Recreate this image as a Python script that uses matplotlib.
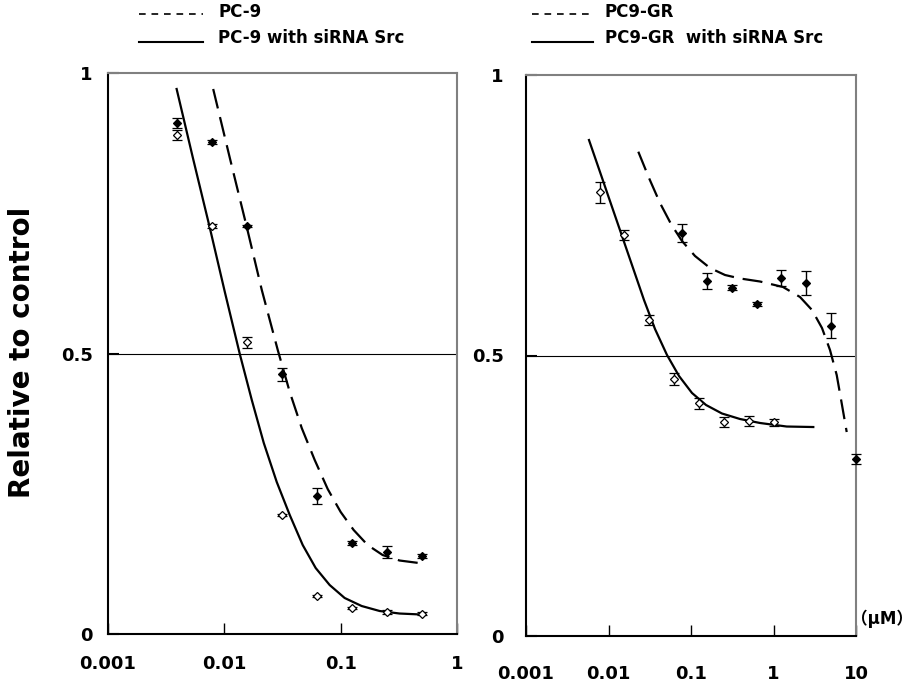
# -*- coding: utf-8 -*-

"""Dose response of PC-9 / PC9-GR cells with and without siRNA Src."""

import matplotlib
matplotlib.use('Agg')
import matplotlib.pyplot as plt
import matplotlib.ticker as ticker
from matplotlib.lines import Line2D

# Left panel: PC-9
PC9_DOSE = [0.0039, 0.0078, 0.0156, 0.03125, 0.0625, 0.125, 0.25, 0.5]
PC9_CTRL = [0.911, 0.877, 0.727, 0.463, 0.246, 0.162, 0.146, 0.139]
PC9_CTRL_ERR = [0.009, 0.003, 0.002, 0.012, 0.014, 0.003, 0.010, 0.004]
PC9_SI = [0.889, 0.727, 0.520, 0.212, 0.068, 0.046, 0.039, 0.036]
PC9_SI_ERR = [0.009, 0.004, 0.010, 0.002, 0.002, 0.002, 0.003, 0.003]

# fitted curves
PC9_FIT_X = [0.00802, 0.01115, 0.01551, 0.02099, 0.02879, 0.0365, 0.04626, 0.05981,
             0.07734, 0.1, 0.1293, 0.1705, 0.2294, 0.3209, 0.5058]
PC9_FIT_Y = [0.9715, 0.8485, 0.7273, 0.6132, 0.5062, 0.4314, 0.3672, 0.3102,
             0.2585, 0.2175, 0.1854, 0.1586, 0.1408, 0.131, 0.1257]
PC9_SI_FIT_X = [0.00389, 0.00537, 0.00751, 0.0101, 0.01358, 0.01722, 0.02183, 0.02822,
                0.0365, 0.04718, 0.061, 0.08044, 0.1082, 0.1515, 0.2162, 0.3209, 0.4861]
PC9_SI_FIT_Y = [0.9715, 0.8485, 0.7237, 0.6096, 0.4991, 0.4171, 0.3405, 0.2709,
                0.2121, 0.1586, 0.1176, 0.0873, 0.0642, 0.0499, 0.041, 0.0365, 0.0348]

# Right panel: PC9-GR
GR_DOSE = [0.078, 0.156, 0.3125, 0.625, 1.25, 2.5, 5, 10]
GR_CTRL = [0.718, 0.633, 0.621, 0.592, 0.638, 0.629, 0.553, 0.316]
GR_CTRL_ERR = [0.016, 0.014, 0.005, 0.003, 0.015, 0.022, 0.022, 0.009]
GR_SI_DOSE = [0.0078, 0.0156, 0.03125, 0.0625, 0.125, 0.25, 0.5, 1.0]
GR_SI = [0.791, 0.714, 0.564, 0.458, 0.415, 0.381, 0.384, 0.381]
GR_SI_ERR = [0.019, 0.009, 0.009, 0.010, 0.0095, 0.009, 0.009, 0.006]

GR_FIT_X = [0.02297, 0.03097, 0.0421, 0.05723, 0.07777, 0.1118, 0.1699, 0.2583, 0.3926,
            0.6863, 1.304, 2.095, 2.929, 3.871, 4.84, 5.837, 6.765, 7.715]
GR_FIT_Y = [0.8633, 0.8164, 0.7718, 0.7344, 0.7041, 0.6774, 0.656, 0.6435, 0.6373,
            0.6319, 0.6221, 0.6043, 0.5811, 0.549, 0.5098, 0.4652, 0.4118, 0.3636]
GR_SI_FIT_X = [0.0058, 0.00789, 0.01072, 0.01458, 0.01982, 0.02694, 0.03662, 0.05118,
               0.07153, 0.1028, 0.152, 0.2375, 0.3926, 0.6863, 1.445, 3.037]
GR_SI_FIT_Y = [0.8841, 0.8271, 0.7701, 0.713, 0.656, 0.5989, 0.5472, 0.5009,
               0.4635, 0.4332, 0.4118, 0.3966, 0.3868, 0.3797, 0.3734, 0.3725]

Y_TICKS = [0, 0.5, 1]
Y_TICK_LABELS = ['0', '0.5', '1']
LEFT_X_TICKS = [0.001, 0.01, 0.1, 1]
LEFT_X_LABELS = ['0.001', '0.01', '0.1', '1']
RIGHT_X_TICKS = [0.001, 0.01, 0.1, 1, 10]
RIGHT_X_LABELS = ['0.001', '0.01', '0.1', '1', '10']

W, H = 915, 697
DASH = (9, 4)


def style_axes(ax, xticks, xlabels, xlim, ypad, xpad):
    """Log x axis, 0-1 y axis, gray top/right frame."""
    ax.set_xscale('log')
    ax.set_xlim(*xlim)
    ax.set_ylim(0, 1)
    ax.xaxis.set_major_locator(ticker.FixedLocator(xticks))
    ax.xaxis.set_minor_locator(ticker.NullLocator())
    ax.set_xticks(xticks)
    ax.set_xticklabels(xlabels)
    ax.set_yticks(Y_TICKS)
    ax.set_yticklabels(Y_TICK_LABELS)
    ax.tick_params(axis='x', direction='in', length=8, width=1, pad=xpad, labelsize=13)
    ax.tick_params(axis='y', direction='in', length=8, width=1.5, pad=ypad, labelsize=13)
    for lbl in ax.get_xticklabels() + ax.get_yticklabels():
        lbl.set_fontweight('bold')
    for side in ('left', 'bottom'):
        ax.spines[side].set_color('black')
        ax.spines[side].set_linewidth(1.5)
    for side in ('top', 'right'):
        ax.spines[side].set_color('#808080')
        ax.spines[side].set_linewidth(1.5)
    ax.axhline(0.5, color='black', lw=0.8, zorder=1)


def plot_points(ax, x, y, err, filled):
    ax.errorbar(x, y, yerr=err, fmt='D', ms=4.5, mfc='black' if filled else 'white',
                mec='black', mew=0.9, ecolor='black', elinewidth=1, capsize=3.5,
                capthick=1, zorder=3, clip_on=False)


def fig_legend(fig, x0, x1, y_dash, y_solid, x_text, labels):
    """Hand placed legend above an axes (pixel positions)."""
    fig.add_artist(Line2D([x0 / W, x1 / W], [1 - y_dash / H] * 2, color='black',
                          lw=1.2, dashes=(4, 3.5)))
    fig.add_artist(Line2D([x0 / W, x1 / W], [1 - y_solid / H] * 2, color='black', lw=1.5))
    fig.text(x_text / W, 1 - (y_dash - 2) / H, labels[0], fontsize=12, fontweight='bold', va='center')
    fig.text(x_text / W, 1 - (y_solid - 4) / H, labels[1], fontsize=12, fontweight='bold', va='center')


fig = plt.figure(figsize=(9.15, 6.97), dpi=100)
ax1 = fig.add_axes([108 / W, 1 - 634 / H, 349 / W, 561 / H])
ax2 = fig.add_axes([526 / W, 1 - 636 / H, 330 / W, 561 / H])

style_axes(ax1, LEFT_X_TICKS, LEFT_X_LABELS, (0.001, 1), 11, 15)
style_axes(ax2, RIGHT_X_TICKS, RIGHT_X_LABELS, (0.001, 10), 16, 21)

# left panel
ax1.plot(PC9_FIT_X, PC9_FIT_Y, color='black', lw=1.6, dashes=DASH, zorder=2)
ax1.plot(PC9_SI_FIT_X, PC9_SI_FIT_Y, color='black', lw=1.6, zorder=2)
plot_points(ax1, PC9_DOSE, PC9_CTRL, PC9_CTRL_ERR, True)
plot_points(ax1, PC9_DOSE, PC9_SI, PC9_SI_ERR, False)

# right panel
ax2.plot(GR_FIT_X, GR_FIT_Y, color='black', lw=1.6, dashes=DASH, zorder=2)
ax2.plot(GR_SI_FIT_X, GR_SI_FIT_Y, color='black', lw=1.6, zorder=2)
plot_points(ax2, GR_DOSE, GR_CTRL, GR_CTRL_ERR, True)
plot_points(ax2, GR_SI_DOSE, GR_SI, GR_SI_ERR, False)

fig.text(913 / W, 1 - 619 / H, '（μM）', fontsize=12, fontweight='bold',
         ha='right', va='center', family=['DejaVu Sans', 'Noto Sans CJK JP'])

fig.text(22 / W, 1 - 352 / H, 'Relative to control', rotation=90, fontsize=20,
         fontweight='bold', ha='center', va='center')

fig_legend(fig, 139, 203, 14, 42, 218, ['PC-9', 'PC-9 with siRNA Src'])
fig_legend(fig, 532, 593, 14, 42, 605, ['PC9-GR', 'PC9-GR  with siRNA Src'])

fig.savefig('out.png', dpi=100)
